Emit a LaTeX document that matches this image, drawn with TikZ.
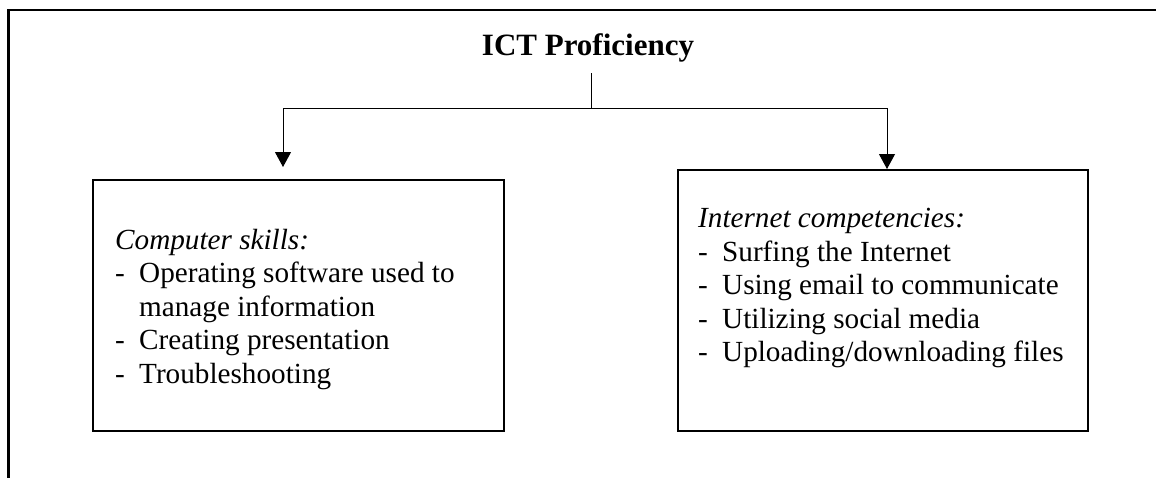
\documentclass[tikz,border=0pt]{standalone}
\usepackage{fontspec}
\setmainfont{Liberation Serif}
\usetikzlibrary{arrows.meta}

\newcommand{\skillitem}[1]{\makebox[24pt][l]{-}#1}

\begin{document}
\begin{tikzpicture}[x=1pt,y=-1pt,>={Triangle[width=16pt,length=15pt]},
        skillbox/.style={draw,line width=2pt,inner sep=0pt,anchor=north west},
        skilltext/.style={align=left,inner sep=0pt,anchor=north west,font=\fontsize{29.2}{33.5}\selectfont}]
        \useasboundingbox (0,0) rectangle (1156,477);

        % Frame
        \draw[line width=2.5pt] (8.5,480) -- (8.5,10) -- (1160,10);

        % Nodes
        \node[font=\fontsize{31}{37}\selectfont\bfseries,anchor=base,inner sep=0pt] (title) at (588,55) {ICT Proficiency};
        \node[skillbox,minimum width=411pt,minimum height=251pt] (comp) at (92,179) {};
        \node[skillbox,minimum width=410pt,minimum height=261pt] (inet) at (677,169) {};
        \node[skilltext] (comptext) at ([shift={(23,50)}]comp.north west) {\textit{Computer skills:}\\
            \skillitem{Operating software used to}\\
            \hspace*{24pt}manage information\\
            \skillitem{Creating presentation}\\
            \skillitem{Troubleshooting}};
        \node[skilltext] (inettext) at ([shift={(21,39)}]inet.north west) {\textit{Internet competencies:}\\
            \skillitem{Surfing the Internet}\\
            \skillitem{Using email to communicate}\\
            \skillitem{Utilizing social media}\\
            \skillitem{Uploading/downloading files}};

        % Connections
        \coordinate (stem) at (591,73);
        \coordinate (split) at (591,108);
        \coordinate (comptip) at (283,167);
        \draw[line width=1pt] (stem) -- (split);
        \draw[->,line width=1pt] (split) -| (comptip);
        \draw[->,line width=1pt] (split) -| ([xshift=4pt]inet.north);
    \end{tikzpicture}
\end{document}
